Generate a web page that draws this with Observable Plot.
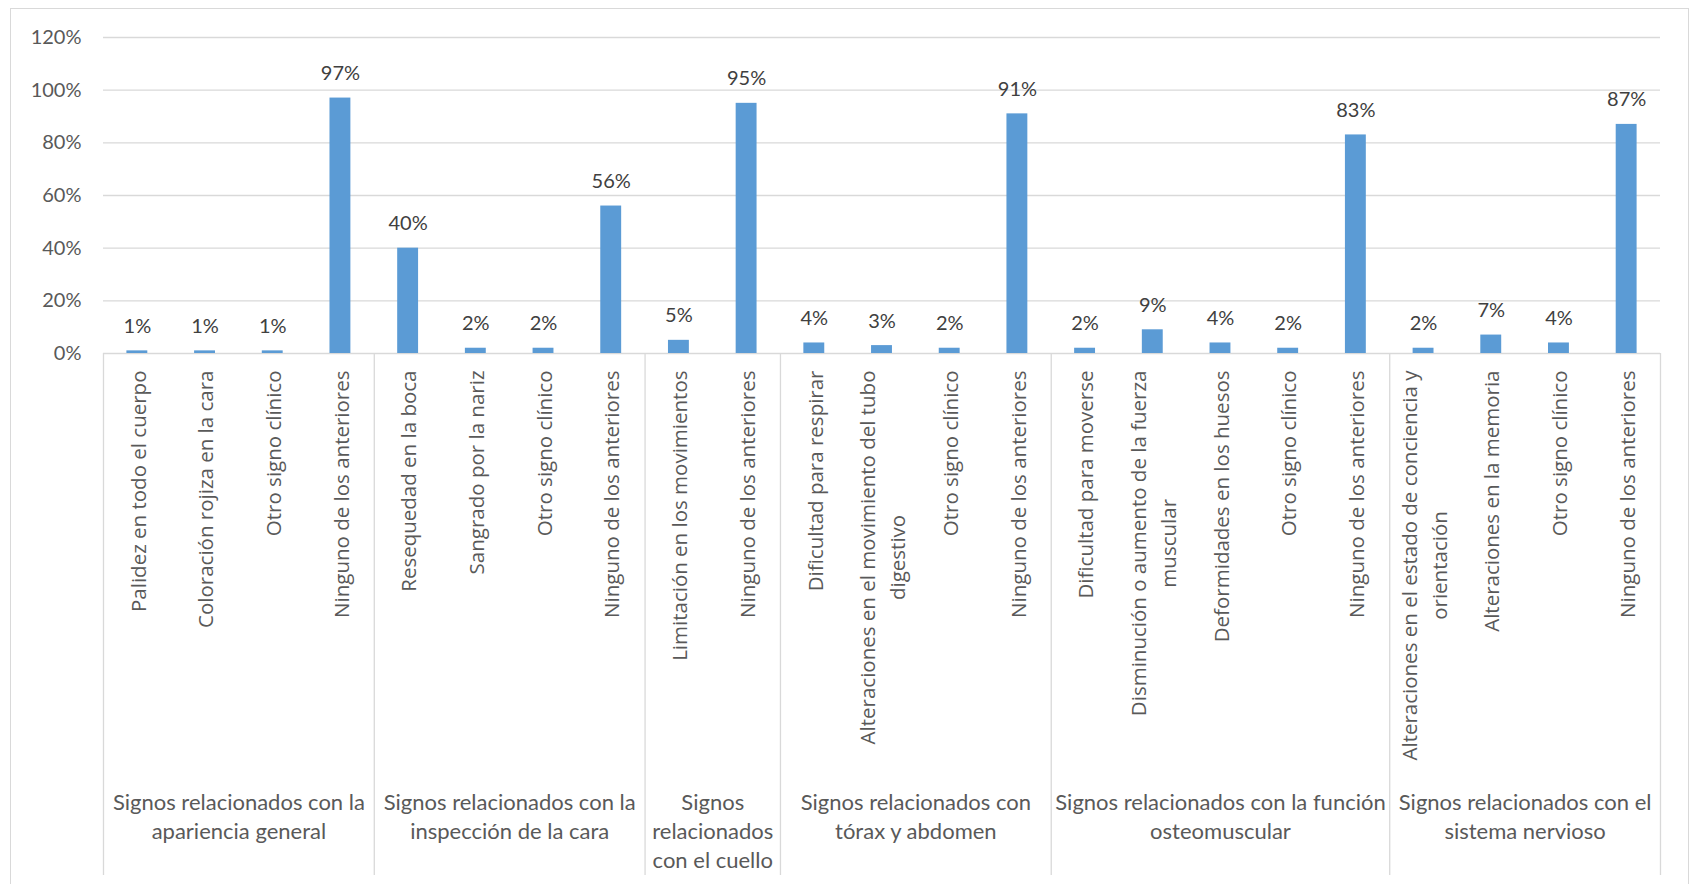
<!DOCTYPE html>
<html><head><meta charset="utf-8">
<script src="https://cdn.jsdelivr.net/npm/d3@7"></script>
<script src="https://cdn.jsdelivr.net/npm/@observablehq/plot@0.6"></script>
<style>
html,body{margin:0;padding:0;background:#fff;overflow:hidden}
#wrap{position:relative;width:1691px;height:884px}
#wrap svg{position:absolute;left:0;top:0}
#border{position:absolute;left:10px;top:8px;width:1677px;height:900px;border:1.5px solid #d9d9d9;pointer-events:none}
</style></head><body><div id="wrap"><div id="border"></div></div>
<script>
const groupLabels = [
  "Signos relacionados con la\napariencia general",
  "Signos relacionados con la\ninspección de la cara",
  "Signos\nrelacionados\ncon el cuello",
  "Signos relacionados con\ntórax y abdomen",
  "Signos relacionados con la función\nosteomuscular",
  "Signos relacionados con el\nsistema nervioso"
];
const groupSizes = [4, 4, 2, 4, 5, 4];
const categories = [
  "Palidez en todo el cuerpo", "Coloración rojiza en la cara", "Otro signo clínico", "Ninguno de los anteriores",
  "Resequedad en la boca", "Sangrado por la nariz", "Otro signo clínico", "Ninguno de los anteriores",
  "Limitación en los movimientos", "Ninguno de los anteriores",
  "Dificultad para respirar", "Alteraciones en el movimiento del tubo\ndigestivo", "Otro signo clínico", "Ninguno de los anteriores",
  "Dificultad para moverse", "Disminución o aumento de la fuerza\nmuscular", "Deformidades en los huesos", "Otro signo clínico", "Ninguno de los anteriores",
  "Alteraciones en el estado de conciencia y\norientación", "Alteraciones en la memoria", "Otro signo clínico", "Ninguno de los anteriores"
];
const values = [1, 1, 1, 97, 40, 2, 2, 56, 5, 95, 4, 3, 2, 91, 2, 9, 4, 2, 83, 2, 7, 4, 87];
const yTicks = [0, 20, 40, 60, 80, 100, 120];

const rows = categories.map((label, i) => ({i, label, value: values[i]}));
const bounds = [0];
groupSizes.forEach(n => bounds.push(bounds[bounds.length - 1] + n));
const groupRows = groupLabels.map((label, g) => ({label, center: (bounds[g] + bounds[g + 1]) / 2}));

const grey = "#d9d9d9";
const tickFont = 20.5;
const chart = Plot.plot({
  width: 1691, height: 884,
  marginLeft: 103, marginRight: 31, marginTop: 37, marginBottom: 531,
  style: {fontFamily: "Lato", fontSize: "20px", color: "#595959", background: "transparent", overflow: "visible"},
  x: {type: "linear", domain: [0, categories.length], axis: null},
  y: {domain: [0, 120], axis: null},
  marks: [
    Plot.ruleY(yTicks, {stroke: grey, strokeWidth: 1.3}),
    Plot.ruleX(bounds, {x: d => d, y1: 0, y2: 0, insetBottom: -522, stroke: grey, strokeWidth: 1.3}),
    Plot.rectY(rows, {x1: d => d.i, x2: d => d.i + 1, y: "value", insetLeft: 23.4, insetRight: 23.4, fill: "#5B9BD5"}),
    Plot.text(rows, {x: d => d.i + 0.5, y: "value", text: d => d.value + "%", dy: -24.4, fontSize: 20, fill: "#404040"}),
    Plot.text(rows, {x: d => d.i + 0.5, text: "label", frameAnchor: "bottom", rotate: -90, textAnchor: "end",
      dy: 17, fontSize: tickFont, lineHeight: 1.46, fill: "#595959", fontFamily: "Open Sans", className: "ticklab"}),
    Plot.text(groupRows, {x: "center", text: "label", frameAnchor: "bottom", lineAnchor: "top",
      dy: 435.8, fontSize: 22, lineHeight: 1.32, fill: "#595959"}),
    Plot.axisY({ticks: yTicks, tickFormat: d => d + "%", tickSize: 0, tickPadding: 22, fontSize: 20, label: null})
  ]
});
document.getElementById("wrap").appendChild(chart);

// rotated labels: longest line ends at the top offset, wrapped lines centred on it and on the band
const lineGap = 30, base = 0.4 * tickFont;
chart.querySelectorAll(".ticklab text").forEach(t => {
  const spans = [...t.querySelectorAll("tspan")];
  const items = spans.length ? spans : [t];
  const n = items.length;
  let L = 0;
  items.forEach(s => { L = Math.max(L, s.getComputedTextLength()); });
  t.setAttribute("text-anchor", "middle");
  t.removeAttribute("dy");
  t.removeAttribute("y");
  items.forEach((s, k) => {
    s.removeAttribute("dy");
    s.setAttribute("x", -L / 2);
    s.setAttribute("y", (k - (n - 1) / 2) * lineGap + base);
  });
});
</script>
</body></html>
